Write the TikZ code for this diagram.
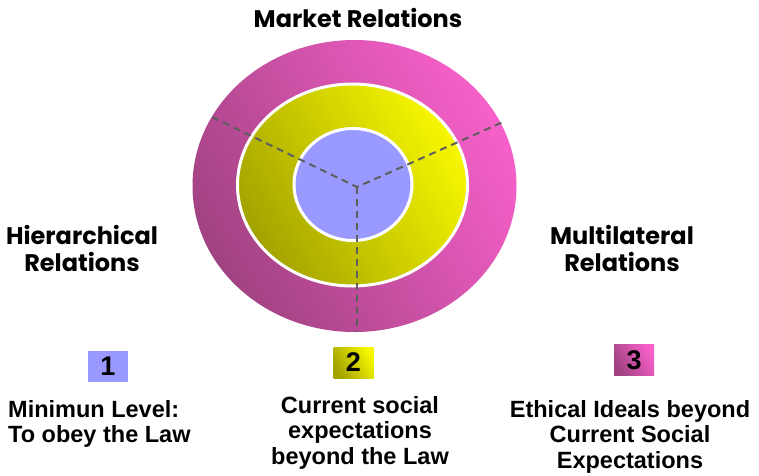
\documentclass[tikz,border=0pt]{standalone}
\usepackage{fontspec}
\setmainfont{Liberation Sans}
\newfontfamily\relfont{Poppins}
\definecolor{lavender}{HTML}{9999FF}
\definecolor{pinkhi}{HTML}{F760CA}
\definecolor{pinklo}{HTML}{A14282}
\definecolor{yellowhi}{HTML}{F7F700}
\definecolor{yellowlo}{HTML}{A3A300}
\definecolor{spokegray}{HTML}{5E5E5E}
\begin{document}
\begin{tikzpicture}[x=1pt,y=-1pt,
  relation/.style={font=\relfont\bfseries\fontsize{24}{27}\selectfont, align=center, inner sep=0pt},
  levelbox/.style={minimum width=40pt, minimum height=31pt, inner sep=0pt, font=\bfseries\fontsize{27}{27}\selectfont},
  caption/.style={font=\bfseries\fontsize{23.5}{25.5}\selectfont, inner sep=0pt, anchor=north},
  ring/.style={shading=axis, top color=#1hi, bottom color=#1lo, shading angle=-60},
  spoke/.style={draw=spokegray, line width=2pt, dash pattern=on 7pt off 5pt}]
\useasboundingbox (0,0) rectangle (759,475);
%% The three rings, outer one first so the smaller ones sit on top of it
    \shade[ring=pink] (354.5,186) ellipse (162 and 146);
    \shadedraw[ring=yellow, draw=white, line width=3pt] (352.5,185) ellipse (115 and 101);
    \draw[fill=lavender, draw=white, line width=3pt] (353,184.5) ellipse (59 and 56);
%% Spokes from the middle out to the edge of the big ring
    \coordinate (hub) at (357,187);
    \coordinate (hierend) at (212,117);
    \coordinate (multiend) at (503,122);
    \coordinate (lowend) at (357,332);
    \draw[spoke] (hierend) -- (hub) -- (multiend);
    \draw[spoke] (hub) -- (lowend);
%% Kinds of relations round the rings
    \node[relation] (mkt) at (358,18) {Market Relations};
    \node[relation] (hier) at (82,248) {Hierarchical\\Relations};
    \node[relation] (multi) at (622,248) {Multilateral\\Relations};
%% Numbered keys and what each level means
    \node[levelbox, fill=lavender] (lvl1) at (108,366) {1};
    \node[levelbox, ring=yellow] (lvl2) at (353.5,362.5) {2};
    \node[levelbox, ring=pink] (lvl3) at (634,360) {3};
    \node[caption, anchor=north west, align=left] (txt1) at (8,400) {Minimun Level:\\To obey the Law};
    \node[caption, align=center] (txt2) at (360,396) {Current social\\expectations\\beyond the Law};
    \node[caption, align=center] (txt3) at (630,400) {Ethical Ideals beyond\\Current Social\\Expectations};
\end{tikzpicture}
\end{document}
